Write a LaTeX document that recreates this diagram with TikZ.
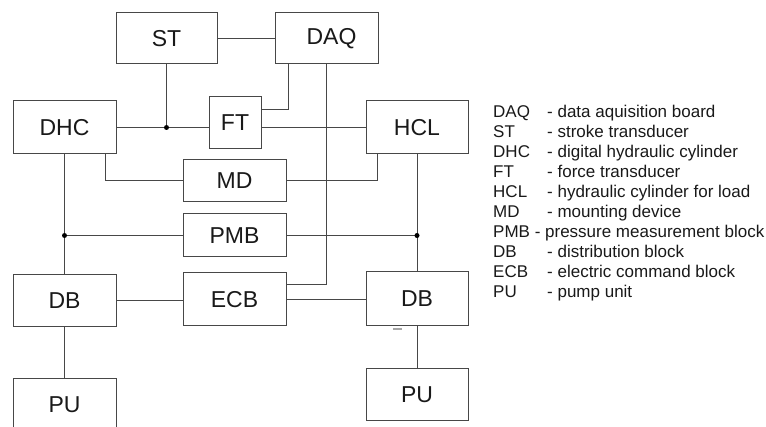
\documentclass[tikz,border=0pt]{standalone}
\usepackage{fontspec}
\setmainfont{Liberation Sans}
\begin{document}
\begin{tikzpicture}[x=1pt,y=-1pt,
  blk/.style={draw=black!72, line width=1pt, fill=white, inner sep=0pt,
    font=\fontsize{23}{27}\selectfont, text=black!90},
  wire/.style={draw=black!72, line width=1pt},
  jdot/.style={circle, fill=black, inner sep=0pt, minimum size=5pt},
  leg/.style={anchor=base west, inner sep=0pt, font=\fontsize{17}{20}\selectfont, text=black!90}]
\useasboundingbox (0,0) rectangle (766,427);

% blocks
\node[blk, minimum width=101pt, minimum height=51pt] (ST)  at (166.5,38.5) {ST};
\node[blk, minimum width=103pt, minimum height=51pt] (DAQ) at (326.5,38.5) {\hspace{10pt}DAQ};
\node[blk, minimum width=103pt, minimum height=53pt] (DHC) at (64.5,127.5) {DHC};
\node[blk, minimum width=52pt,  minimum height=52pt] (FT)  at (235,123) {FT};
\node[blk, minimum width=102pt, minimum height=53pt] (HCL) at (417,127.5) {HCL};
\node[blk, minimum width=103pt, minimum height=42pt] (MD)  at (234.5,181) {MD};
\node[blk, minimum width=103pt, minimum height=43pt] (PMB) at (234.5,235.5) {PMB};
\node[blk, minimum width=103pt, minimum height=52pt] (DBa) at (64.5,301) {DB};
\node[blk, minimum width=103pt, minimum height=53pt] (ECB) at (234.5,299.5) {ECB};
\node[blk, minimum width=102pt, minimum height=54pt] (DBb) at (417,299) {DB};
\node[blk, minimum width=103pt, minimum height=56pt] (PUa) at (64.5,407) {};
\node[font=\fontsize{23}{27}\selectfont, text=black!90] (PUat) at (64.5,405) {PU};
\node[blk, minimum width=102pt, minimum height=52pt] (PUb) at (417,395) {PU};

% connectors
\draw[wire] (ST.east) -- (DAQ.west |- ST.east);
\draw[wire] (ST.south) -- (ST.south |- DHC.east);
\draw[wire] (DHC.east) -- (DHC.east -| FT.west);
\draw[wire] ([xshift=14pt]DAQ.south west) |- ([yshift=13pt]FT.east);
\draw[wire] (DAQ.south) |- ([yshift=14.5pt]ECB.east);
\draw[wire] (HCL.west) -- (HCL.west -| FT.east);
\draw[wire] ([xshift=-11pt]DHC.south east) |- (MD.west);
\draw[wire] (MD.east) -| ([xshift=12pt]HCL.south west);
\draw[wire] (DHC.south) -- (DBa.north);
\draw[wire] (HCL.south) -- (DBb.north);
\draw[wire] (PMB.west) -- (PMB.west -| DHC.south);
\draw[wire] (PMB.east) -- (PMB.east -| HCL.south);
\draw[wire] (DBa.east) -- (DBa.east -| ECB.west);
\draw[wire] (ECB.east) -- (ECB.east -| DBb.west);
\draw[wire] (DBa.south) -- (PUa.north);
\draw[wire] (DBb.south) -- (PUb.north);

% junctions
\node[jdot] (j1) at (ST.south |- DHC.east) {};
\node[jdot] (j2) at (PMB.west -| DHC.south) {};
\node[jdot] (j3) at (PMB.east -| HCL.south) {};

% small scan mark
\draw[black!35, line width=1.2pt] (393,329) -- (402,329);

% legend
\foreach \ab/\de [count=\i from 0] in {DAQ/data aquisition board, ST/stroke transducer,
  DHC/digital hydraulic cylinder, FT/force transducer, HCL/hydraulic cylinder for load,
  MD/mounting device}{
  \node[leg] (lk\i) at (493,118+20*\i) {\ab};
  \node[leg] (ld\i) at (547,118+20*\i) {- \de};
}
\node[leg] (lk6) at (493,238) {PMB - pressure measurement block};
\foreach \ab/\de [count=\i from 7] in {DB/distribution block, ECB/electric command block,
  PU/pump unit}{
  \node[leg] (lk\i) at (493,118+20*\i) {\ab};
  \node[leg] (ld\i) at (547,118+20*\i) {- \de};
}
\end{tikzpicture}
\end{document}
